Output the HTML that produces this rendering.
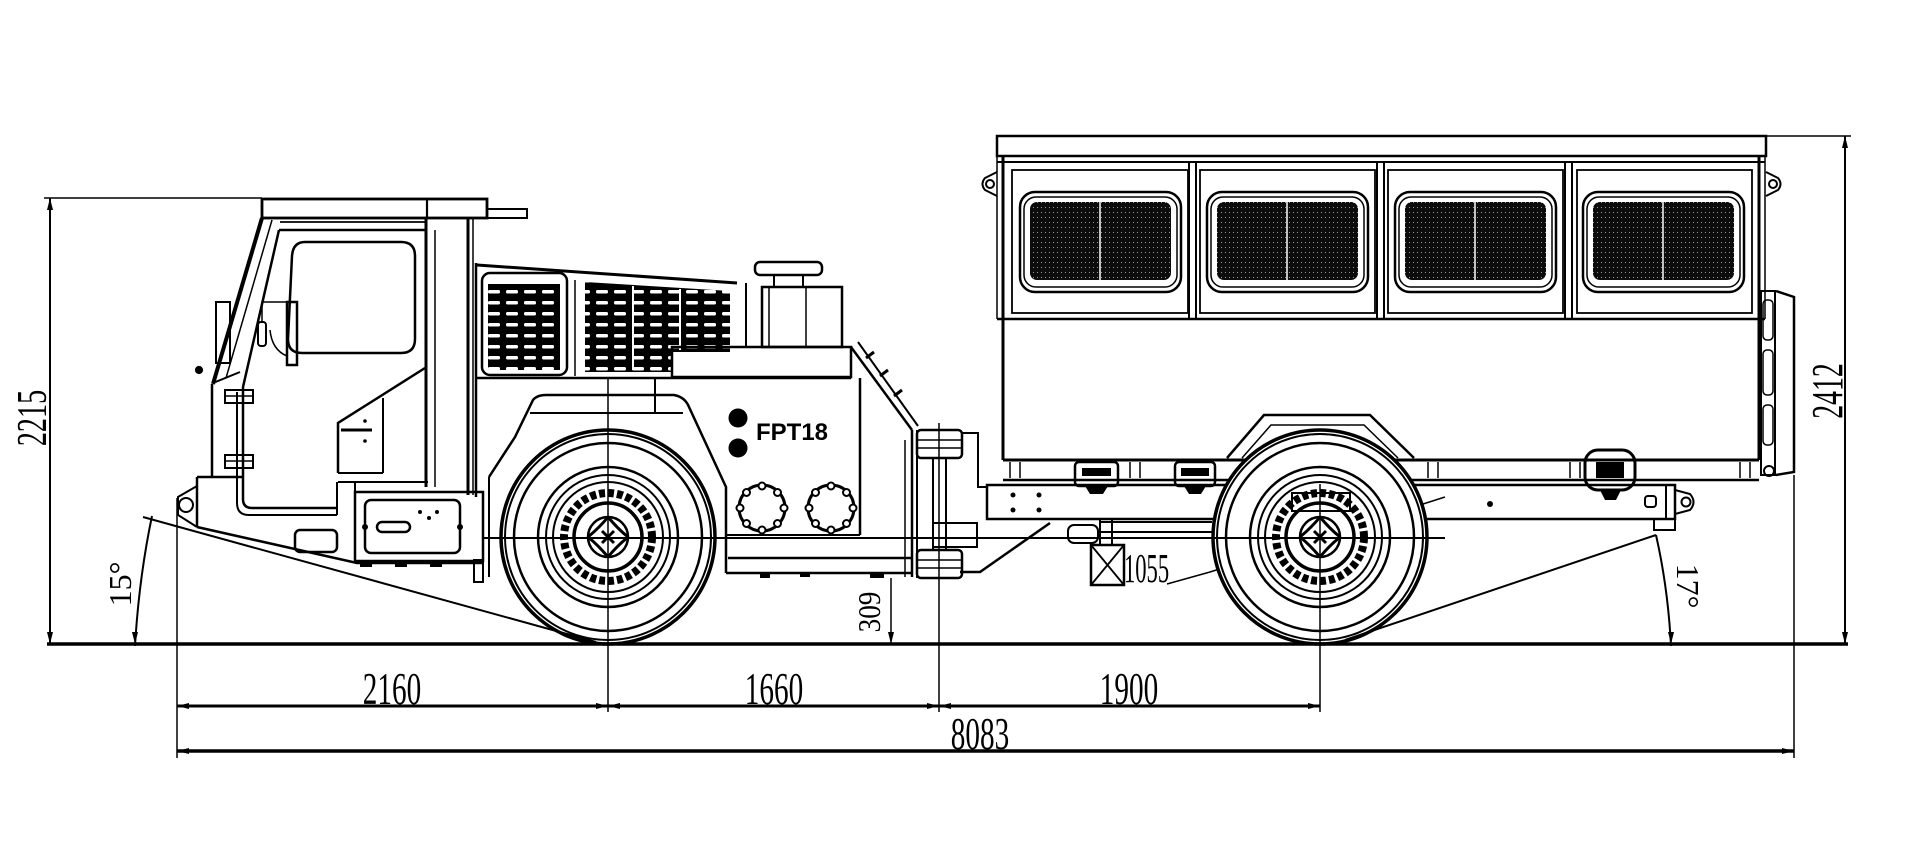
<!DOCTYPE html>
<html><head><meta charset="utf-8"><style>
html,body{margin:0;padding:0;background:#fff;}
svg{display:block;}
</style></head><body>
<svg width="1920" height="850" viewBox="0 0 1920 850" xmlns="http://www.w3.org/2000/svg">
<defs>
<pattern id="mesh" width="4" height="5" patternUnits="userSpaceOnUse"><rect width="4" height="5" fill="#0c0c0c"/><rect x="1" y="2" width="1" height="1" fill="#999"/></pattern>
<pattern id="slots" width="18" height="11" patternUnits="userSpaceOnUse"><rect width="18" height="11" fill="#000"/><rect x="2" y="4" width="12" height="3.5" rx="1.5" fill="#fff"/></pattern>
<g id="wheel" fill="none" stroke="#000">
<circle r="107" fill="#fff" stroke-width="3.5"/>
<circle r="103" stroke-width="2"/>
<circle r="94" stroke-width="2.5"/>
<circle r="70" stroke-width="2.5"/>
<circle r="62" stroke-width="2"/>
<circle r="55" stroke-width="2"/>
<circle r="44" stroke-width="8" stroke-dasharray="6 3"/>
<circle r="34" stroke-width="3.5"/>
<circle r="20" stroke-width="2.5"/>
<path d="M0,-20 Q10,-8 20,0 M20,0 Q8,10 0,20 M0,20 Q-10,8 -20,0 M-20,0 Q-8,-10 0,-20 M-6,-6 L6,6 M6,-6 L-6,6" stroke-width="3"/>
</g>
<g id="cover" fill="none" stroke="#000">
<circle r="23" stroke-width="3"/>
<g fill="#fff" stroke-width="2">
<circle cx="0" cy="-22" r="3.5"/><circle cx="0" cy="22" r="3.5"/><circle cx="-22" cy="0" r="3.5"/><circle cx="22" cy="0" r="3.5"/>
<circle cx="15.5" cy="15.5" r="3.5"/><circle cx="-15.5" cy="15.5" r="3.5"/><circle cx="15.5" cy="-15.5" r="3.5"/><circle cx="-15.5" cy="-15.5" r="3.5"/>
</g>
</g>
</defs>
<rect width="1920" height="850" fill="#fff"/>

<!-- ================= TRAILER ================= -->
<g fill="none" stroke="#000" stroke-width="2.2">
<rect x="997" y="136" width="769" height="20" stroke-width="2.5"/>
<line x1="997" y1="162" x2="1765" y2="162" stroke-width="2"/>
<line x1="997" y1="156" x2="997" y2="319" stroke-width="1.5"/>
<line x1="1003" y1="156" x2="1003" y2="460" stroke-width="3"/>
<line x1="1759" y1="156" x2="1759" y2="460" stroke-width="3"/>
<line x1="1765" y1="156" x2="1765" y2="319" stroke-width="1.5"/>
<line x1="997" y1="319" x2="1765" y2="319" stroke-width="2.5"/>
<rect x="1012" y="170" width="176" height="143" stroke-width="1.8"/>
<rect x="1200" y="170" width="175" height="143" stroke-width="1.8"/>
<rect x="1388" y="170" width="175" height="143" stroke-width="1.8"/>
<rect x="1577" y="170" width="175" height="143" stroke-width="1.8"/>
<rect x="1189" y="162" width="7" height="157" stroke-width="2"/>
<rect x="1377" y="162" width="7" height="157" stroke-width="2"/>
<rect x="1565" y="162" width="7" height="157" stroke-width="2"/>
<g>
<rect x="1020" y="192" width="161" height="100" rx="15" stroke-width="2.5"/>
<rect x="1024" y="197" width="153" height="90" rx="12" stroke-width="1.5"/>
<rect x="1207" y="192" width="161" height="100" rx="15" stroke-width="2.5"/>
<rect x="1211" y="197" width="153" height="90" rx="12" stroke-width="1.5"/>
<rect x="1395" y="192" width="161" height="100" rx="15" stroke-width="2.5"/>
<rect x="1399" y="197" width="153" height="90" rx="12" stroke-width="1.5"/>
<rect x="1583" y="192" width="161" height="100" rx="15" stroke-width="2.5"/>
<rect x="1587" y="197" width="153" height="90" rx="12" stroke-width="1.5"/>
</g>
<g stroke="none" fill="url(#mesh)">
<rect x="1030" y="202" width="141" height="78" rx="7"/>
<rect x="1217" y="202" width="141" height="78" rx="7"/>
<rect x="1405" y="202" width="141" height="78" rx="7"/>
<rect x="1593" y="202" width="141" height="78" rx="7"/>
</g>
<g stroke="#fff" stroke-width="1.5">
<line x1="1100" y1="200" x2="1100" y2="282"/><line x1="1287" y1="200" x2="1287" y2="282"/>
<line x1="1475" y1="200" x2="1475" y2="282"/><line x1="1663" y1="200" x2="1663" y2="282"/>
</g>
<path d="M997,172 L985,178 Q980,184 985,190 L997,196" stroke-width="2"/>
<circle cx="990" cy="184" r="4" stroke-width="2"/>
<path d="M1766,172 L1778,178 Q1783,184 1778,190 L1766,196" stroke-width="2"/>
<circle cx="1773" cy="184" r="4" stroke-width="2"/>
<rect x="1761" y="291" width="14" height="184" stroke-width="2"/>
<rect x="1763" y="300" width="10" height="40" rx="4" stroke-width="1.5"/>
<rect x="1763" y="350" width="10" height="45" rx="4" stroke-width="1.5"/>
<rect x="1763" y="405" width="10" height="40" rx="4" stroke-width="1.5"/>
<path d="M1776,291 L1794,297 L1794,472 L1776,475" stroke-width="2.5"/>
<circle cx="1769" cy="471" r="5" stroke-width="2"/>
<line x1="1003" y1="460" x2="1759" y2="460" stroke-width="3"/>
<line x1="1003" y1="480" x2="1759" y2="480" stroke-width="2.5"/>
<line x1="1010" y1="462" x2="1010" y2="478" stroke-width="1.5"/><line x1="1020" y1="462" x2="1020" y2="478" stroke-width="1.5"/>
<line x1="1130" y1="462" x2="1130" y2="478" stroke-width="1.5"/><line x1="1140" y1="462" x2="1140" y2="478" stroke-width="1.5"/>
<line x1="1428" y1="462" x2="1428" y2="478" stroke-width="1.5"/><line x1="1438" y1="462" x2="1438" y2="478" stroke-width="1.5"/>
<line x1="1570" y1="462" x2="1570" y2="478" stroke-width="1.5"/><line x1="1580" y1="462" x2="1580" y2="478" stroke-width="1.5"/>
<line x1="1740" y1="462" x2="1740" y2="478" stroke-width="1.5"/><line x1="1750" y1="462" x2="1750" y2="478" stroke-width="1.5"/>
<rect x="1075" y="462" width="43" height="24" rx="4" stroke-width="2.5"/>
<rect x="1082" y="468" width="29" height="8" fill="#000" stroke="none"/>
<path d="M1085,486 L1090,494 L1103,494 L1108,486" fill="#000" stroke="none"/>
<rect x="1175" y="462" width="40" height="24" rx="4" stroke-width="2.5"/>
<rect x="1181" y="468" width="28" height="8" fill="#000" stroke="none"/>
<path d="M1184,486 L1189,494 L1201,494 L1206,486" fill="#000" stroke="none"/>
<rect x="1585" y="450" width="50" height="40" rx="13" stroke-width="3"/>
<rect x="1596" y="462" width="28" height="16" fill="#000" stroke="none"/>
<path d="M1600,490 L1605,500 L1616,500 L1621,490" fill="#000" stroke="none"/>
<path d="M1227,458 L1264,415 L1370,415 L1414,458" stroke-width="2.5"/>
<path d="M1242,458 L1271,425 L1364,425 L1398,458" stroke-width="1.5"/>
<rect x="987" y="485" width="688" height="34" stroke-width="2.5"/>
<line x1="1666" y1="486" x2="1666" y2="519" stroke-width="2"/>
<rect x="1645" y="496" width="11" height="11" rx="3" stroke-width="2"/>
<path d="M1675,490 L1690,494 Q1697,502 1690,510 L1675,514" stroke-width="2"/>
<circle cx="1686" cy="502" r="4.5" stroke-width="2"/>
<rect x="1654" y="519" width="21" height="11" stroke-width="2"/>
<path d="M1050,523 L980,572 L960,572" stroke-width="2.5"/>
<rect x="1068" y="525" width="30" height="18" rx="6" stroke-width="2"/>
<line x1="1100" y1="522" x2="1212" y2="522" stroke-width="2"/>
<line x1="1100" y1="532" x2="1212" y2="532" stroke-width="2"/>
<rect x="1100" y="519" width="12" height="26" stroke-width="2"/>
<rect x="1091" y="545" width="33" height="40" stroke-width="2.5"/>
<path d="M1091,545 L1124,585 M1124,545 L1091,585" stroke-width="1.8"/>
<polyline points="1167,584 1210,572 1445,497" stroke-width="1.5"/>
</g>
<g fill="#000" stroke="none">
<circle cx="1013" cy="495" r="2.5"/><circle cx="1039" cy="495" r="2.5"/>
<circle cx="1013" cy="510" r="2.5"/><circle cx="1039" cy="510" r="2.5"/>
<circle cx="1490" cy="504" r="3"/>
</g>

<!-- ================= FRONT UNIT ================= -->
<g fill="none" stroke="#000" stroke-width="2.2">
<rect x="262" y="199" width="225" height="19" stroke-width="2.8"/>
<line x1="427" y1="199" x2="427" y2="218"/>
<rect x="487" y="209" width="40" height="9" stroke-width="2"/>
<line x1="280" y1="222" x2="426" y2="222" stroke-width="1.8"/>
<line x1="279" y1="230" x2="426" y2="230" stroke-width="2.5"/>
<line x1="262" y1="218" x2="213" y2="384" stroke-width="4"/>
<line x1="272" y1="220" x2="226" y2="378" stroke-width="1.5"/>
<line x1="279" y1="230" x2="243" y2="387" stroke-width="2.5"/>
<line x1="213" y1="383" x2="240" y2="372" stroke-width="2"/>
<line x1="212" y1="384" x2="212" y2="477" stroke-width="2.5"/>
<rect x="216" y="302" width="14" height="61" stroke-width="2"/>
<circle cx="199" cy="370" r="3" fill="#000"/>
<path d="M243,387 L243,499 Q243,508 252,508 L337,508" stroke-width="2.5"/>
<path d="M237,392 L237,503 Q237,515 249,515 L337,515" stroke-width="2"/>
<path d="M305,242 H401 Q415,242 415,256 V339 Q415,353 401,353 H302 Q288,353 288,339 L292,256 Q293,242 305,242 Z" stroke-width="2.5"/>
<rect x="287" y="302" width="10" height="63" stroke-width="2.5"/>
<rect x="258" y="322" width="8" height="24" rx="3" stroke-width="2"/>
<path d="M262,322 L262,302 L287,302" stroke-width="1.5"/>
<path d="M270,330 Q272,350 287,356" stroke-width="1.5"/>
<rect x="225" y="390" width="28" height="13" stroke-width="2"/><line x1="225" y1="396" x2="253" y2="396" stroke-width="1.5"/>
<rect x="225" y="455" width="28" height="13" stroke-width="2"/><line x1="225" y1="461" x2="253" y2="461" stroke-width="1.5"/>
<line x1="426" y1="218" x2="426" y2="487" stroke-width="3"/>
<line x1="435" y1="230" x2="435" y2="487" stroke-width="1.5"/>
<line x1="468" y1="218" x2="468" y2="495" stroke-width="3"/>
<line x1="473" y1="218" x2="473" y2="495" stroke-width="1.5"/>
<path d="M425,368 L338,423 L338,473" stroke-width="2.5"/>
<line x1="383" y1="398" x2="383" y2="473" stroke-width="2"/>
<line x1="338" y1="473" x2="383" y2="473" stroke-width="2"/>
<line x1="338" y1="482" x2="428" y2="482" stroke-width="2"/>
<line x1="341" y1="430" x2="372" y2="430" stroke-width="3"/>
<line x1="197" y1="477" x2="243" y2="477" stroke-width="2.5"/>
<line x1="197" y1="477" x2="197" y2="527" stroke-width="2.5"/>
<path d="M197,527 L357,563 L483,563" stroke-width="2.5"/>
<line x1="337" y1="482" x2="337" y2="515" stroke-width="2"/>
<line x1="355" y1="482" x2="355" y2="492" stroke-width="2"/>
<path d="M197,486 L178,497 L178,515 L197,527" stroke-width="2"/>
<circle cx="186" cy="505" r="7" stroke-width="2"/>
<rect x="295" y="530" width="42" height="22" rx="5" stroke-width="2.5"/>
<rect x="355" y="492" width="128" height="69" stroke-width="2.5"/>
<rect x="365" y="500" width="95" height="53" rx="6" stroke-width="2.5"/>
<rect x="377" y="522" width="33" height="10" rx="5" stroke-width="2.5"/>
<rect x="360" y="563" width="12" height="4" fill="#000" stroke="none"/>
<rect x="395" y="563" width="12" height="4" fill="#000" stroke="none"/>
<rect x="430" y="563" width="12" height="4" fill="#000" stroke="none"/>
<line x1="476" y1="263" x2="476" y2="497" stroke-width="2.5"/>
<line x1="477" y1="265" x2="737" y2="283" stroke-width="3"/>
<rect x="482" y="273" width="85" height="102" rx="8" stroke-width="2.5"/>
<rect x="488" y="284" width="72" height="86" fill="url(#slots)" stroke="none"/>
<polygon points="585,282 730,291 730,352 672,352 672,372 585,372" fill="url(#slots)" stroke="none"/>
<line x1="633" y1="286" x2="633" y2="370" stroke="#fff" stroke-width="2"/>
<line x1="680" y1="289" x2="680" y2="350" stroke="#fff" stroke-width="2"/>
<line x1="575" y1="280" x2="575" y2="376" stroke-width="1.5"/>
<rect x="672" y="347" width="179" height="30" stroke-width="2.5"/>
<line x1="746" y1="283" x2="746" y2="347" stroke-width="2"/>
<rect x="762" y="287" width="80" height="60" stroke-width="2.5"/>
<line x1="769" y1="287" x2="769" y2="347" stroke-width="1.5"/>
<line x1="806" y1="287" x2="806" y2="347" stroke-width="1.5"/>
<rect x="755" y="262" width="67" height="13" rx="5" stroke-width="2.5"/>
<rect x="774" y="275" width="29" height="12" stroke-width="2"/>
<line x1="476" y1="378" x2="851" y2="378" stroke-width="2.5"/>
<path d="M851,347 L912,430" stroke-width="2.5"/>
<path d="M858,342 L918,426" stroke-width="2"/>
<path d="M866,358 L874,352 M880,376 L888,370 M894,396 L902,390" stroke-width="3"/>
<line x1="912" y1="430" x2="912" y2="577" stroke-width="2.5"/>
<line x1="905" y1="440" x2="905" y2="577" stroke-width="1.5"/>
<line x1="860" y1="378" x2="860" y2="535" stroke-width="2.5"/>
<line x1="726" y1="535" x2="860" y2="535" stroke-width="2"/>
<line x1="728" y1="558" x2="912" y2="558" stroke-width="2.5"/>
<line x1="726" y1="573" x2="912" y2="573" stroke-width="2.5"/>
<rect x="760" y="573" width="10" height="5" fill="#000" stroke="none"/>
<rect x="800" y="573" width="10" height="4" fill="#000" stroke="none"/>
<rect x="870" y="573" width="14" height="5" fill="#000" stroke="none"/>
<path d="M489,477 L515,437 L533,400 Q537,395 546,395 L674,395 Q685,397 689,407 L726,487 L726,573" stroke-width="2.5"/>
<line x1="530" y1="413" x2="683" y2="413" stroke-width="2"/>
<line x1="655" y1="378" x2="655" y2="413" stroke-width="2"/>
<line x1="489" y1="477" x2="489" y2="577" stroke-width="2"/>
<rect x="474" y="560" width="9" height="22" stroke-width="2"/>
<rect x="917" y="430" width="45" height="28" rx="4" stroke-width="2.5"/>
<line x1="917" y1="440" x2="962" y2="440" stroke-width="1.5"/>
<line x1="917" y1="448" x2="962" y2="448" stroke-width="1.5"/>
<rect x="917" y="550" width="45" height="28" rx="4" stroke-width="2.5"/>
<line x1="917" y1="560" x2="962" y2="560" stroke-width="1.5"/>
<line x1="917" y1="568" x2="962" y2="568" stroke-width="1.5"/>
<line x1="933" y1="458" x2="933" y2="550" stroke-width="2"/>
<line x1="946" y1="458" x2="946" y2="550" stroke-width="2"/>
<path d="M962,433 L978,433 L978,487 L987,487" stroke-width="2"/>
<rect x="933" y="523" width="44" height="24" stroke-width="2"/>
<line x1="917" y1="430" x2="917" y2="578" stroke-width="2"/>
</g>
<g fill="#000" stroke="none">
<circle cx="738" cy="418" r="9.5"/>
<circle cx="738" cy="448" r="9.5"/>
<circle cx="420" cy="512" r="2"/><circle cx="429" cy="518" r="2"/><circle cx="437" cy="512" r="2"/>
<circle cx="365" cy="421" r="1.8"/><circle cx="365" cy="441" r="1.8"/>
<circle cx="365" cy="527" r="3"/><circle cx="460" cy="527" r="3"/>
</g>
<use href="#cover" x="762" y="508"/>
<use href="#cover" x="831" y="508"/>
<text x="756" y="440" font-family="Liberation Sans, sans-serif" font-weight="bold" font-size="24" fill="#000">FPT18</text>

<use href="#wheel" x="608" y="537"/>
<use href="#wheel" x="1320" y="537"/>
<rect x="1292" y="493" width="58" height="18" fill="none" stroke="#000" stroke-width="2"/>

<!-- ================= DIMENSIONS ================= -->
<g fill="none" stroke="#000">
<line x1="484" y1="538" x2="1445" y2="538" stroke-width="2"/>
<line x1="47" y1="644" x2="1848" y2="644" stroke-width="3.5"/>
<line x1="50" y1="198" x2="50" y2="644" stroke-width="2"/>
<line x1="44" y1="198" x2="262" y2="198" stroke-width="1.5"/>
<line x1="1845" y1="136" x2="1845" y2="644" stroke-width="2"/>
<line x1="1766" y1="136" x2="1851" y2="136" stroke-width="1.5"/>
<line x1="177" y1="498" x2="177" y2="758" stroke-width="1.5"/>
<line x1="608" y1="378" x2="608" y2="712" stroke-width="1.5"/>
<line x1="939" y1="423" x2="939" y2="712" stroke-width="1.5"/>
<line x1="1320" y1="484" x2="1320" y2="712" stroke-width="1.5"/>
<line x1="1794" y1="475" x2="1794" y2="758" stroke-width="1.5"/>
<line x1="177" y1="706" x2="1320" y2="706" stroke-width="3"/>
<line x1="177" y1="751" x2="1794" y2="751" stroke-width="3.5"/>
<line x1="891" y1="578" x2="891" y2="644" stroke-width="1.5"/>
<line x1="143" y1="517" x2="596" y2="642" stroke-width="2"/>
<line x1="1656" y1="535" x2="1345" y2="640" stroke-width="2"/>
<path d="M152,516 Q139,578 135,646" stroke-width="2"/>
<path d="M1656,535 Q1668,588 1671,646" stroke-width="2"/>
</g>
<g fill="#000" stroke="none">
<polygon points="50,198 47,210 53,210"/><polygon points="50,644 47,632 53,632"/>
<polygon points="1845,136 1842,148 1848,148"/><polygon points="1845,644 1842,632 1848,632"/>
<polygon points="177,706 189,703 189,709"/><polygon points="608,706 596,703 596,709"/><polygon points="608,706 620,703 620,709"/>
<polygon points="939,706 927,703 927,709"/><polygon points="939,706 951,703 951,709"/><polygon points="1320,706 1308,703 1308,709"/>
<polygon points="177,751 189,748 189,754"/><polygon points="1794,751 1782,748 1782,754"/>
<polygon points="891,644 888,632 894,632"/>
<polygon points="135,644 132,632 138,632"/><polygon points="1671,644 1668,632 1674,632"/>
</g>
<g fill="#000" font-family="Liberation Serif, serif">
<text transform="translate(392,704) scale(0.65,1)" font-size="45" text-anchor="middle">2160</text>
<text transform="translate(774,704) scale(0.65,1)" font-size="45" text-anchor="middle">1660</text>
<text transform="translate(1129,704) scale(0.65,1)" font-size="45" text-anchor="middle">1900</text>
<text transform="translate(980,749) scale(0.65,1)" font-size="45" text-anchor="middle">8083</text>
<text transform="translate(46,418) rotate(-90) scale(0.67,1)" font-size="42" text-anchor="middle">2215</text>
<text transform="translate(1842,391) rotate(-90) scale(0.63,1)" font-size="44" text-anchor="middle">2412</text>
<text transform="translate(880,612) rotate(-90) scale(0.85,1)" font-size="32" text-anchor="middle">309</text>
<text transform="translate(131,584) rotate(-90)" font-size="32" text-anchor="middle">15°</text>
<text transform="translate(1677,586) rotate(90)" font-size="32" text-anchor="middle">17°</text>
<text transform="translate(1124,582) scale(0.55,1)" font-size="41">1055</text>
</g>
</svg>
</body></html>
